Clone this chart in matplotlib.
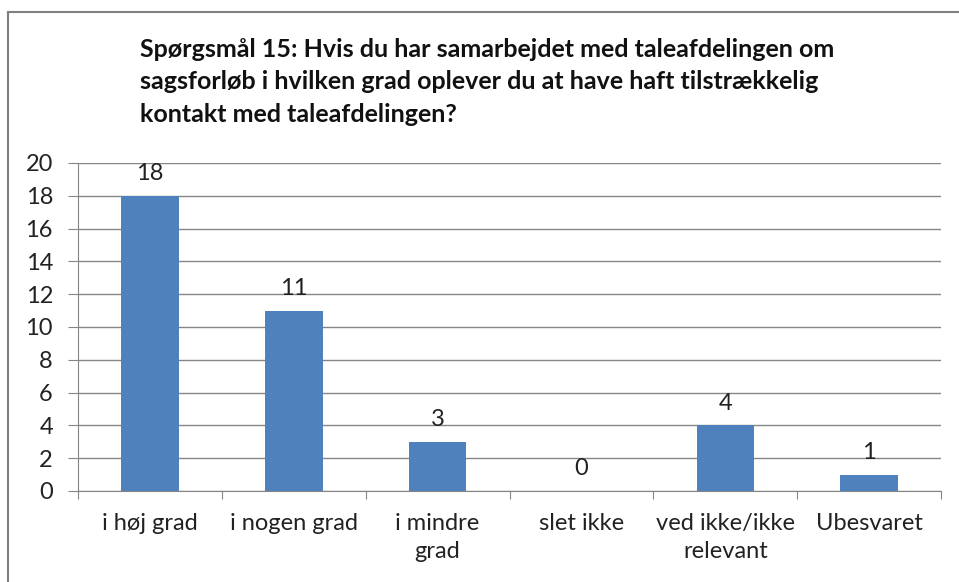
import matplotlib.pyplot as plt
from matplotlib.lines import Line2D

kategorier = ["i høj grad", "i nogen grad", "i mindre\ngrad", "slet ikke",
              "ved ikke/ikke\nrelevant", "Ubesvaret"]
antal = [18, 11, 3, 0, 4, 1]
yticks = [0, 2, 4, 6, 8, 10, 12, 14, 16, 18, 20]
titel = ("Spørgsmål 15: Hvis du har samarbejdet med taleafdelingen om\n"
         "sagsforløb i hvilken grad oplever du at have haft tilstrækkelig\n"
         "kontakt med taleafdelingen?")

plt.rcParams['font.family'] = ['Lato', 'DejaVu Sans']

fig = plt.figure(figsize=(9.59, 5.82), dpi=100)
ax = fig.add_axes([0.0813, 0.1564, 0.9000, 0.5636])

x = list(range(len(kategorier)))
ax.bar(x, antal, width=0.4, color="#4f81bd", zorder=3)
for i, v in enumerate(antal):
    ax.text(i, v + 0.7, str(v), ha="center", va="bottom", fontsize=17, color="#222222")

ax.set_xlim(-0.5, len(kategorier) - 0.5)
ax.set_ylim(0, 20)
ax.set_yticks(yticks)
ax.set_yticklabels([str(t) for t in yticks], fontsize=17, color="#222222")
ax.set_xticks([i - 0.5 for i in range(len(kategorier) + 1)])
ax.set_xticklabels([])
ax.set_xticks(x, minor=True)
ax.set_xticklabels(kategorier, minor=True, fontsize=17, color="#222222",
                   linespacing=1.4)
ax.tick_params(axis="x", which="minor", length=0, pad=16)
ax.tick_params(axis="x", which="major", length=6, color="#868686", direction="out")
ax.tick_params(axis="y", length=7, color="#868686", direction="out", pad=11)

ax.grid(axis="y", color="#868686", linewidth=1, zorder=0)
for s in ["top", "right"]:
    ax.spines[s].set_visible(False)
ax.spines["left"].set_color("#868686")
ax.spines["bottom"].set_color("#868686")

fig.text(0.146, 0.935, titel, ha="left", va="top", fontsize=18,
         fontweight="bold", color="#111111", linespacing=1.5)

# ramme kun venstre og top
fig.add_artist(Line2D([8 / 959, 8 / 959], [0, 1 - 12 / 582], transform=fig.transFigure,
                      color="#808080", linewidth=1.5))
fig.add_artist(Line2D([8 / 959, 1], [1 - 12 / 582, 1 - 12 / 582], transform=fig.transFigure,
                      color="#808080", linewidth=1.5))

fig.savefig("out.png", dpi=100)
